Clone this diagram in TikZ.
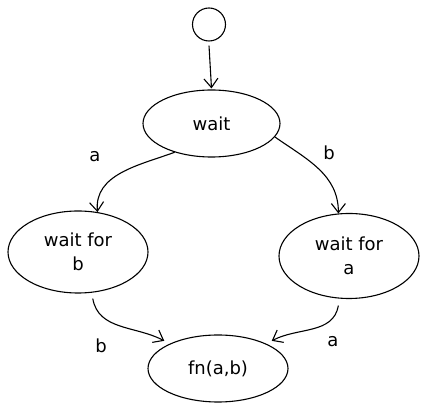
\documentclass[tikz,border=0pt]{standalone}
\usepackage{fontspec}
\setmainfont{DejaVu Sans}
\usetikzlibrary{shapes.geometric,arrows.meta}
\begin{document}
\begin{tikzpicture}[x=1pt,y=-1pt,
  state/.style={ellipse,draw,line width=1.1pt,inner sep=0pt,minimum width=137pt,font=\fontsize{18}{24}\selectfont,align=center},
  lbl/.style={font=\fontsize{18}{24}\selectfont},
  conn/.style={line width=1.1pt,-{Straight Barb[length=9pt,width=14pt,line width=1.1pt]}},
  every node/.append style={text=black}]
\useasboundingbox (0,0) rectangle (429,411);
\node[circle,draw,line width=1.1pt,minimum size=33pt,inner sep=0pt] (init) at (209,24.5) {};
\node[state,minimum height=67pt] (wait) at (211.5,123.5) {wait};
\node[state,minimum width=140pt,minimum height=82pt] (wfb) at (78,252) {wait for\\b};
\node[state,minimum width=140pt,minimum height=85pt] (wfa) at (349,256) {wait for\\a};
\node[state,minimum width=140pt,minimum height=67pt] (fn) at (218,368.5) {fn(a,b)};
\node[lbl] (la1) at (95,157) {a};
\node[lbl] (lb1) at (329,153) {b};
\node[lbl] (lb2) at (101,346) {b};
\node[lbl] (la2) at (333,342) {a};
\draw[conn] ([yshift=-4pt]init.south) -- ([yshift=1pt]wait.north);
\draw[conn] (wait.218) to[out=200,in=95] (wfb.64);
\draw[conn] (wait.-12) to[out=-35,in=90] (wfa.104);
\draw[conn] ([yshift=-6pt]wfb.-70) to[out=-80,in=152] ([shift={(-3pt,4pt)}]fn.155);
\draw[conn] ([yshift=-7pt]wfa.-104) to[out=-100,in=28] ([shift={(3pt,4pt)}]fn.25);
\end{tikzpicture}
\end{document}
